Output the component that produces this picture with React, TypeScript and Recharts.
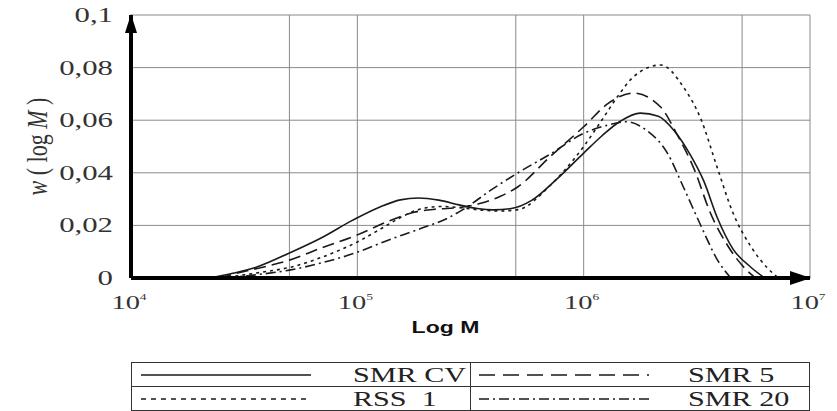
import { LineChart, Line, XAxis, YAxis, CartesianGrid, ReferenceLine, ReferenceDot } from 'recharts'

// log10(M) positions and w(log M) values
const smrCvX = [4.35, 4.45, 4.55, 4.7, 4.84, 4.98, 5.1, 5.19, 5.27, 5.36, 5.45, 5.53, 5.6, 5.68, 5.77, 5.88, 6.0, 6.08, 6.16, 6.25, 6.33, 6.4, 6.47, 6.53, 6.59, 6.66, 6.74, 6.8]
const smrCvY = [0, 0.0018, 0.004, 0.0095, 0.0152, 0.022, 0.027, 0.0297, 0.0304, 0.0296, 0.0278, 0.0264, 0.0259, 0.0264, 0.0295, 0.0375, 0.0475, 0.054, 0.0595, 0.0627, 0.0615, 0.056, 0.047, 0.037, 0.023, 0.011, 0.004, 0]

const smr5X = [4.39, 4.5, 4.6, 4.7, 4.84, 5.0, 5.13, 5.25, 5.35, 5.45, 5.55, 5.63, 5.71, 5.85, 6.0, 6.11, 6.22, 6.34, 6.41, 6.49, 6.56, 6.64, 6.72, 6.76]
const smr5Y = [0, 0.0025, 0.0045, 0.0068, 0.0114, 0.0164, 0.0213, 0.025, 0.0262, 0.0268, 0.0285, 0.031, 0.0347, 0.046, 0.0575, 0.0665, 0.0703, 0.065, 0.055, 0.041, 0.0247, 0.0118, 0.003, 0]

const rss1X = [4.4, 4.5, 4.6, 4.7, 4.84, 5.0, 5.1, 5.18, 5.27, 5.37, 5.47, 5.55, 5.63, 5.71, 5.85, 6.0, 6.08, 6.15, 6.22, 6.34, 6.44, 6.52, 6.59, 6.66, 6.74, 6.81, 6.86]
const rss1Y = [0, 0.0012, 0.0025, 0.004, 0.0078, 0.0137, 0.0185, 0.0225, 0.026, 0.0272, 0.0266, 0.0258, 0.0255, 0.026, 0.035, 0.05, 0.06, 0.069, 0.0765, 0.081, 0.0727, 0.06, 0.042, 0.0247, 0.0118, 0.004, 0]

const smr20X = [4.42, 4.55, 4.7, 4.84, 5.0, 5.13, 5.28, 5.4, 5.47, 5.6, 5.71, 5.85, 6.0, 6.1, 6.19, 6.28, 6.37, 6.44, 6.52, 6.59, 6.65]
const smr20Y = [0, 0.0012, 0.003, 0.0057, 0.0098, 0.0142, 0.0188, 0.0228, 0.0262, 0.034, 0.04, 0.047, 0.055, 0.058, 0.0594, 0.056, 0.0475, 0.0347, 0.0195, 0.007, 0]

const xTicks = [4, 5, 6, 7]
const yTicks = [0, 0.02, 0.04, 0.06, 0.08, 0.1]
const xGrid = [4.7, 5, 5.7, 6, 6.7, 7]

const toPoints = (xs: number[], ys: number[]) => xs.map((x, i) => ({ x, y: ys[i] }))

const series = [
    { name: 'SMR CV', data: toPoints(smrCvX, smrCvY), dash: undefined as string | undefined, legendDash: undefined as string | undefined },
    { name: 'SMR 5', data: toPoints(smr5X, smr5Y), dash: '12 6', legendDash: '16 8' },
    { name: 'RSS  1', data: toPoints(rss1X, rss1Y), dash: '3 4', legendDash: '5 5' },
    { name: 'SMR 20', data: toPoints(smr20X, smr20Y), dash: '10 4 2 4', legendDash: '10 4 2 4' },
]

const serif = '"Liberation Serif", "Times New Roman", serif'
const ink = '#1a1a1a'
// the scanned figure is stretched sideways, so text is widened to match
const stretch = 1.4

const XTick = ({ x, y, payload }: any) => (
    <text transform={`translate(${x - 2},${y + 29}) scale(1.5,1)`} textAnchor="middle" fontFamily={serif} fontSize={19} fill="#333">
        10<tspan fontSize={9} dy={-9}>{payload.value}</tspan>
    </text>
)

const fmtY = (v: number) => (v === 0 ? '0' : String(v).replace('.', ','))

const YTick = ({ x, y, payload }: any) => (
    <text transform={`translate(${x},${y + 7}) scale(${stretch},1)`} textAnchor="end" fontFamily={serif} fontSize={22} fill="#333">
        {fmtY(payload.value)}
    </text>
)

const YLabel = ({ viewBox }: any) => {
    const cx = viewBox.x + 37
    const cy = viewBox.y + viewBox.height / 2
    return (
        <text transform={`translate(${cx},${cy}) rotate(-90) scale(1,1.35)`} textAnchor="middle" dominantBaseline="central"
            fontFamily={serif} fontSize={22} fill="#333">
            <tspan fontStyle="italic">w</tspan> ( log <tspan fontStyle="italic">M</tspan> )
        </text>
    )
}

const XLabel = ({ viewBox }: any) => (
    <text transform={`translate(${viewBox.x + viewBox.width / 2 - 25},${viewBox.y + 55}) scale(1.44,1)`} textAnchor="middle"
        fontFamily='"Liberation Sans", Arial, sans-serif' fontWeight="bold" fontSize={16} fill="#111">
        Log M
    </text>
)

const ArrowRight = ({ cx, cy }: any) => (
    <polygon points={`${cx + 1},${cy} ${cx - 20},${cy - 7} ${cx - 20},${cy + 7}`} fill="#000" />
)

const ArrowUp = ({ cx, cy }: any) => (
    <polygon points={`${cx},${cy - 1} ${cx - 6},${cy + 18} ${cx + 6},${cy + 18}`} fill="#000" />
)

function LegendTable() {
    const cellStyle: React.CSSProperties = {
        border: '1.5px solid #333', padding: 0, height: 23, position: 'relative',
    }
    const cell = (s: typeof series[number], sampleLeft: number, textLeft: number) => (
        <td style={cellStyle}>
            <svg width={170} height={10} style={{ position: 'absolute', left: sampleLeft, top: 7 }}>
                <line x1={0} y1={5} x2={170} y2={5} stroke={ink} strokeWidth={1.5} strokeDasharray={s.legendDash} />
            </svg>
            <span style={{
                position: 'absolute', left: textLeft, top: 0, fontFamily: serif, fontSize: 22, color: '#222',
                whiteSpace: 'pre', lineHeight: '24px', display: 'inline-block',
                transform: 'scaleX(1.37)', transformOrigin: 'left center',
            }}>
                {s.name}
            </span>
        </td>
    )
    return (
        <table style={{ position: 'absolute', left: 131, top: 362, width: 679, borderCollapse: 'collapse', tableLayout: 'fixed' }}>
            <tbody>
                <tr>{cell(series[0], 9, 221)}{cell(series[1], 8, 217)}</tr>
                <tr>{cell(series[2], 9, 221)}{cell(series[3], 8, 217)}</tr>
            </tbody>
        </table>
    )
}

export default function App() {
    return (
        <div style={{ position: 'absolute', left: 0, top: 0, width: 837, height: 411, background: '#fff' }}>
            <LineChart width={837} height={345} margin={{ top: 15, right: 27, left: 0, bottom: 0 }}>
                <CartesianGrid vertical={false} stroke="#8a8a8a" strokeWidth={1} />
                {xGrid.map((g) => (
                    <ReferenceLine key={g} x={g} stroke="#8a8a8a" strokeWidth={1} />
                ))}
                {series.map((s) => (
                    <Line
                        key={s.name}
                        data={s.data}
                        dataKey="y"
                        name={s.name}
                        type="monotone"
                        stroke={ink}
                        strokeWidth={1.6}
                        strokeDasharray={s.dash}
                        dot={false}
                        activeDot={false}
                        isAnimationActive={false}
                    />
                ))}
                <XAxis
                    type="number"
                    dataKey="x"
                    domain={[4, 7]}
                    ticks={xTicks}
                    allowDataOverflow
                    height={67}
                    tickLine={false}
                    tickSize={0}
                    axisLine={{ stroke: '#000', strokeWidth: 4 }}
                    tick={<XTick />}
                    label={XLabel}
                />
                <YAxis
                    type="number"
                    domain={[0, 0.1]}
                    ticks={yTicks}
                    width={131}
                    tickLine={false}
                    tickSize={0}
                    tickMargin={18}
                    axisLine={{ stroke: '#000', strokeWidth: 4 }}
                    tick={<YTick />}
                    label={YLabel}
                />
                <ReferenceDot x={7} y={0} r={0} ifOverflow="visible" shape={ArrowRight} />
                <ReferenceDot x={4} y={0.1} r={0} ifOverflow="visible" shape={ArrowUp} />
            </LineChart>
            <LegendTable />
        </div>
    )
}
